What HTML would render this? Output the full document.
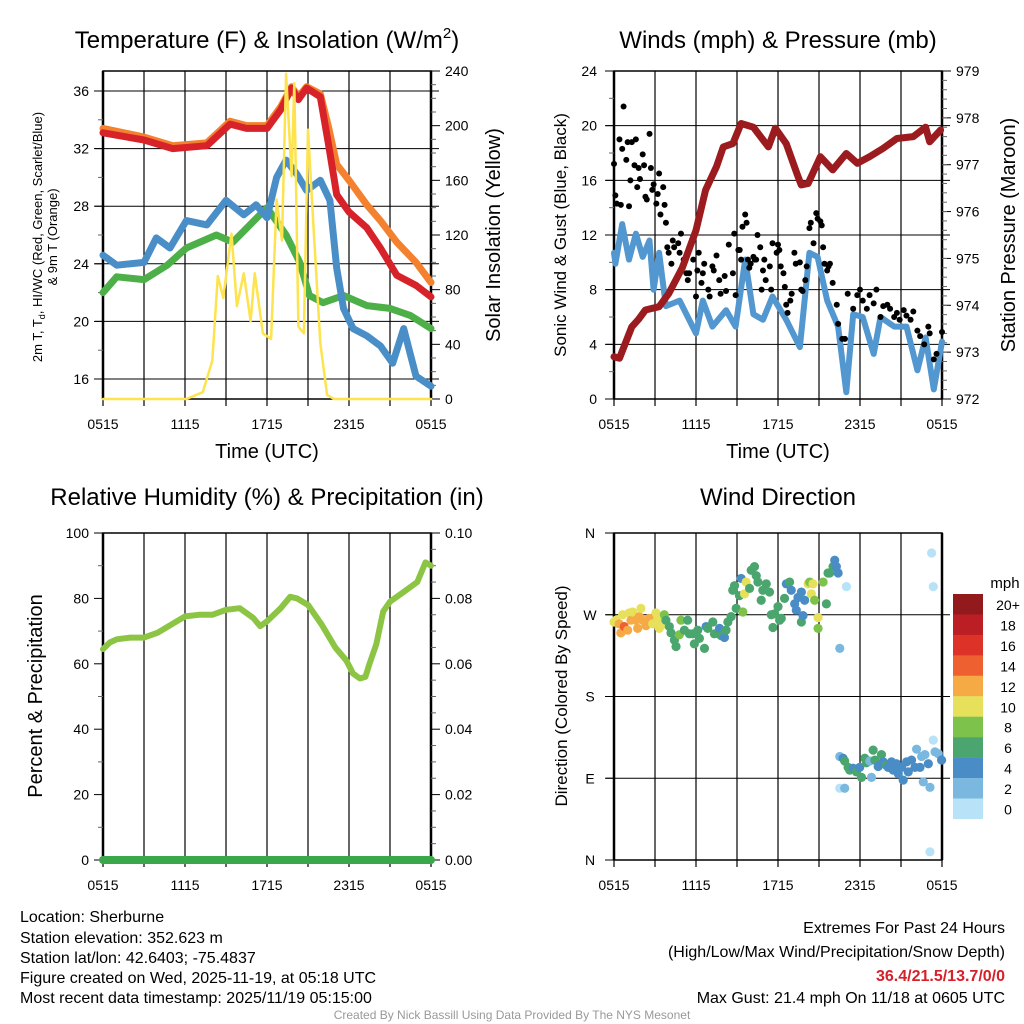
<!DOCTYPE html>
<html><head><meta charset="utf-8">
<style>
html,body{margin:0;padding:0;background:#fff;}
svg{display:block;font-family:"Liberation Sans",sans-serif;}
</style></head>
<body>
<svg id="c" width="1024" height="1024" viewBox="0 0 1024 1024">
<rect width="1024" height="1024" fill="#fff"/>
<g id="g"></g>
<!-- titles -->
<text x="267" y="48" font-size="24" text-anchor="middle">Temperature (F) &amp; Insolation (W/m<tspan font-size="15" dy="-10">2</tspan><tspan dy="10">)</tspan></text>
<text x="778" y="48" font-size="24" text-anchor="middle">Winds (mph) &amp; Pressure (mb)</text>
<text x="267" y="505" font-size="24" text-anchor="middle">Relative Humidity (%) &amp; Precipitation (in)</text>
<text x="778" y="505" font-size="24" text-anchor="middle">Wind Direction</text>
<!-- axis titles -->
<text x="267" y="458" font-size="20" text-anchor="middle">Time (UTC)</text>
<text x="778" y="458" font-size="20" text-anchor="middle">Time (UTC)</text>
<text transform="translate(42,237) rotate(-90)" font-size="13" text-anchor="middle">2m T, T<tspan font-size="9" dy="3">d</tspan><tspan dy="-3">, HI/WC (Red, Green, Scarlet/Blue)</tspan></text>
<text transform="translate(57,237) rotate(-90)" font-size="13" text-anchor="middle">&amp; 9m T (Orange)</text>
<text transform="translate(500,235) rotate(-90)" font-size="20" text-anchor="middle">Solar Insolation (Yellow)</text>
<text transform="translate(566,235) rotate(-90)" font-size="17" text-anchor="middle">Sonic Wind &amp; Gust (Blue, Black)</text>
<text transform="translate(1015,235) rotate(-90)" font-size="20" text-anchor="middle">Station Pressure (Maroon)</text>
<text transform="translate(42,696) rotate(-90)" font-size="20" text-anchor="middle">Percent &amp; Precipitation</text>
<text transform="translate(567,696) rotate(-90)" font-size="17" text-anchor="middle">Direction (Colored By Speed)</text>
<text x="1005" y="588" font-size="15" text-anchor="middle">mph</text>
<!-- footer info -->
<g font-size="16">
<text x="20" y="922">Location: Sherburne</text>
<text x="20" y="943">Station elevation: 352.623 m</text>
<text x="20" y="963">Station lat/lon: 42.6403; -75.4837</text>
<text x="20" y="983">Figure created on Wed, 2025-11-19, at 05:18 UTC</text>
<text x="20" y="1003">Most recent data timestamp: 2025/11/19 05:15:00</text>
</g>
<g font-size="16" text-anchor="end">
<text x="1005" y="933">Extremes For Past 24 Hours</text>
<text x="1005" y="957">(High/Low/Max Wind/Precipitation/Snow Depth)</text>
<text x="1005" y="981" fill="#d6202a" font-weight="bold">36.4/21.5/13.7/0/0</text>
<text x="1005" y="1003">Max Gust: 21.4 mph On 11/18 at 0605 UTC</text>
</g>
<text x="512" y="1019" font-size="12" fill="#999" text-anchor="middle">Created By Nick Bassill Using Data Provided By The NYS Mesonet</text>
</svg>
<script>
// ---- data (hours since 0515 UTC) ----
const xTickLabels = ["0515","1115","1715","2315","0515"];
const redH = [0,3,5.1,7.6,9.3,10.5,12,13,13.8,14.3,14.9,15.9,16.5,17.1,18,19.3,20.3,21.5,22.9,24];
const redT = [33.1,32.6,32.0,32.2,33.7,33.4,33.4,34.7,36.2,35.4,36.2,35.6,32.3,28.8,27.6,26.5,25.1,23.2,22.5,21.7];
const orangeH = [0,3,5.1,7.6,9.3,10.5,12,13,13.8,14.3,14.9,15.9,16.5,17.1,18,19.3,20.3,21.5,22.9,24];
const orangeT = [33.4,32.8,32.2,32.4,33.9,33.6,33.6,34.9,36.3,35.6,36.3,35.8,33.5,30.9,29.8,28.1,27.0,25.5,24.1,22.7];
const blueH = [0,1,3,3.9,4.9,6.1,7.6,9,10.3,11.2,12,12.7,13.4,14.2,14.9,15.9,16.6,17.1,17.6,18.3,19.3,20.3,21.2,22,22.9,24];
const blueT = [24.6,23.9,24.1,25.8,25.1,27,26.7,28.4,27.4,28.1,27.2,30,31.2,30.2,29.1,29.8,28.4,23.7,20.9,19.5,19,18.3,17.1,19.5,16.2,15.5];
const greenH = [0,1,3,4.7,6.1,8.3,9.5,12,13.4,14.4,15.1,16.1,17.6,19.3,21,22.5,24];
const greenT = [22,23.1,22.9,23.9,25.1,26,25.5,27.9,26,24.1,21.8,21.3,21.8,21.1,20.9,20.4,19.5];
const solH = [0,6.1,7.3,8.0,8.4,8.8,9.4,9.8,10.3,10.8,11.1,11.7,12.3,12.7,13.1,13.4,13.8,14.0,14.3,14.7,15.0,15.4,15.9,16.4,16.9,24];
const solW = [0,0,5,28,90,74,121,68,92,57,92,48,44,146,116,238,163,231,53,48,197,126,41,3,0,0];
const tempTicks = [16,20,24,28,32,36];
const solTicks = [0,40,80,120,160,200,240];

const presH = [0,0.4,1.3,1.8,2.3,3.3,4.0,5.0,6.0,6.7,7.5,8.0,8.7,9.3,10.2,11.3,11.8,12.6,13.4,13.7,14.2,15.1,16.0,17.0,17.8,18.7,19.7,20.7,21.9,22.8,23.1,23.9];
const presMb = [972.9,972.87,973.54,973.7,973.9,973.97,974.25,974.8,975.6,976.46,976.96,977.38,977.45,977.88,977.8,977.38,977.78,977.45,976.8,976.57,976.6,977.17,976.89,977.24,977.03,977.17,977.35,977.56,977.6,977.8,977.49,977.74];
const windH = [0,0.1,0.6,1.1,1.6,2.1,2.6,2.9,3.3,3.8,4.8,6,6.5,7.2,8.2,8.9,9.6,10.2,10.9,11.6,12.6,13.6,14.3,14.9,15.6,16.4,17.0,17.5,18.2,19.0,19.5,20.5,21.4,22.2,22.8,23.4,24];
const windMph = [10.7,9.9,12.8,10.2,12.1,10.4,11.6,8,10.7,6.8,7.2,4.8,7.2,5.3,6.5,5.3,10.2,6.2,5.8,7.5,5.8,3.8,10.7,10.4,7.2,5.3,0.5,6.2,6,3.3,6,5.3,5.3,2.1,4.5,0.7,4.2];
const gustH = [0,0.1,0.2,0.4,0.5,0.6,0.7,0.9,1,1.1,1.2,1.3,1.5,1.6,1.7,1.8,1.9,2.1,2.2,2.3,2.4,2.6,2.7,2.8,2.9,3.1,3.2,3.3,3.4,3.6,3.7,3.8,3.9,4,4.2,4.3,4.4,4.7,4.8,4.9,5,5.1,5.3,5.4,5.5,5.8,6,6.1,6.2,6.4,6.5,6.6,6.9,7,7.2,7.3,7.5,7.7,7.8,8.1,8.2,8.4,8.7,8.8,8.9,9.1,9.2,9.3,9.4,9.6,9.7,9.8,9.9,10,10.2,10.3,10.4,10.5,10.7,10.8,10.9,11,11.1,11.4,11.5,11.6,11.9,12,12.1,12.2,12.4,12.5,12.6,12.7,12.9,13,13.2,13.3,13.6,13.7,13.8,14,14.1,14.3,14.4,14.6,14.8,14.9,15.1,15.2,15.3,15.4,15.6,15.7,15.8,16,16.3,16.4,16.7,16.9,17.1,17.5,17.8,18,18.2,18.5,18.7,19,19.2,19.5,19.7,20,20.2,20.5,20.7,20.9,21.2,21.4,21.7,21.9,22.2,22.4,22.7,23,23.1,23.4,23.6,24];
const gustMph = [17.2,14.9,14.3,19,14.2,18.3,21.4,17.5,18.8,14.1,16,18.8,17.1,19,15.5,16.9,16.1,17.9,17.1,14.8,14.6,19.4,16.9,15.3,15.7,14.3,15,16.5,13.5,15.5,14.2,12.9,11.1,10.7,9.9,11.6,11.1,11.4,10.7,12.1,9.7,10.2,9.2,8.7,9.2,10.2,7.5,9.4,10.7,8.5,9.2,9.9,8,7.5,9.7,9.4,10.5,8.7,7.7,9,7.9,11.3,9.2,12.1,7.6,10.9,10.9,10.2,12.6,13.5,12.9,10.2,9.6,9.9,10.4,10.2,10.2,12,11.1,8,9.4,10.2,8.7,9.7,8,11.4,10.7,11.3,10.9,9.7,9.2,8.2,6.9,6.3,7.2,7.7,10.7,9.9,10,8,7.9,8.7,9.7,12.5,12.9,11.4,13.6,13.2,13,12.7,11.1,9.9,9.4,9.7,9.9,8.5,6.9,5.5,4.4,4.4,7.7,6.6,7.6,8,7.2,6.6,7.6,7,8,6,6.8,6.9,6.6,6,6.3,5.8,6.5,6.1,5.8,6.4,5,4.6,4,5.3,4.8,2.9,3.3,4.9];
const windTicks = [0,4,8,12,16,20,24];
const presTicks = [972,973,974,975,976,977,978,979];

const rhH = [0,0.5,1,2,3,4,5,6,7,8,9,10,11,11.5,12,13,13.7,14.2,15,16,17,17.8,18.3,18.8,19.2,19.5,20,20.5,21,22,23,23.6,24];
const rhPct = [64.5,66.5,67.5,68,68,69.5,72,74.5,75,75,76.5,77,74,71.5,73,77,80.5,80,78,72,65,61,57,55.5,56,60,66,76,79,82,85,91,90];
const precipH = [0,24];
const precipIn = [0,0];
const rhTicks = [0,20,40,60,80,100];
const precipTicks = ["0.00","0.02","0.04","0.06","0.08","0.10"];

const dirH = [0,0.14,0.38,0.5,0.63,0.75,1,1.11,1.24,1.36,1.6,1.73,1.85,1.97,2.09,2.34,2.58,2.83,3.07,3.19,3.31,3.44,3.68,3.8,4.05,4.17,4.42,4.54,4.78,4.9,5.15,5.39,5.52,5.76,5.88,6.13,6.25,6.62,6.74,6.86,7.23,7.35,7.72,7.84,8.08,8.2,8.33,8.57,8.69,8.82,8.94,9.18,9.3,9.43,9.55,9.67,9.92,10.04,10.28,10.41,10.53,10.77,10.89,11.14,11.38,11.51,11.63,11.75,12,12.12,12.24,12.48,12.61,12.85,12.97,13.22,13.34,13.46,13.71,13.71,13.83,13.95,14.2,14.32,14.44,14.56,14.68,14.93,14.93,15.3,15.54,15.66,15.78,16.03,16.15,16.27,16.4,16.52,17.01,23.24,23.36,
16.52,16.76,16.88,17.13,17.25,17.5,17.74,17.98,18.11,18.35,18.47,18.72,18.96,19.09,19.33,19.57,19.7,19.94,20.06,20.31,20.43,20.67,20.8,21.04,21.16,21.41,21.53,21.77,22.02,22.14,22.39,22.51,22.63,22.75,23.0,23.12,23.36,23.49,23.73,23.97,16.52,16.88,18.84,23.12];
const dirDeg = [262,264,260,250,270,257,253,272,264,273,264,255,268,277,264,258,266,260,272,264,255,258,270,264,257,250,242,235,248,264,253,264,249,249,238,253,244,233,257,255,262,249,255,247,245,253,262,268,297,302,277,291,310,273,293,306,299,319,323,313,306,286,297,304,295,270,256,271,279,264,266,288,304,306,297,282,275,289,295,262,269,286,304,306,293,304,286,267,255,306,282,316,316,323,330,323,316,233,301,338,301,
114,112,109,102,99,101,97,102,91,112,107,109,121,110,103,116,108,104,102,108,99,106,95,102,88,108,97,110,102,122,102,114,86,116,106,80,132,119,117,110,79,79,91,9];
const dirSpd = [10,10,12,12,11,14,12,10,12,10,12,12,12,10,12,12,12,10,10,10,10,10,8,6,6,6,6,6,8,8,6,6,6,6,6,6,6,6,4,6,6,6,4,6,4,6,6,6,6,6,6,6,4,8,10,10,6,6,6,6,6,6,6,6,6,6,6,6,6,6,6,6,4,6,4,4,4,4,4,6,4,4,10,8,10,10,8,10,8,8,6,6,6,6,4,4,4,2,0,0,0,
2,4,6,6,6,4,6,4,6,6,6,2,6,6,4,6,4,6,4,4,4,4,4,4,4,4,4,4,4,2,4,2,2,2,4,2,0,2,2,4,0,2,2,0];
const dirTicks = ["N","W","S","E","N"];
const cbLabels = ["20+","18","16","14","12","10","8","6","4","2","0"];
const cbColors = ["#921a1c","#bb1e24","#dc3228","#ee6030","#f5aa45","#e6e05a","#7dc24a","#4aa56e","#4a8cc5","#7ab8e0","#b8e2f7"];

// ---- drawing ----
const NS = "http://www.w3.org/2000/svg";
const G = document.getElementById("g");
function mk(tag, attrs, parent) {
  const e = document.createElementNS(NS, tag);
  for (const k in attrs) e.setAttribute(k, attrs[k]);
  (parent || G).appendChild(e);
  return e;
}
function panel(x0, x1, y0, y1) {
  return {x0, x1, y0, y1, sx: h => x0 + (x1 - x0) * h / 24};
}
function lin(v0, v1, p0, p1) { return v => p0 + (v - v0) * (p1 - p0) / (v1 - v0); }

function frame(p, name, hLines) {
  const gr = mk("g", {});
  
  
  for (let i = 0; i <= 8; i++) {
    const x = p.x0 + (p.x1 - p.x0) * i / 8;
    const l = mk("line", {x1: x, x2: x, y1: p.y0, y2: p.y1 + 7, stroke: "#000", "stroke-width": 1.2}, gr);
    
    
  }
  hLines.forEach(y => {
    const l = mk("line", {x1: p.x0 - 8, x2: p.x1 + 8, y1: y, y2: y, stroke: "#000", "stroke-width": 1}, gr);
    
    
  });
  const b = mk("rect", {x: p.x0, y: p.y0, width: p.x1 - p.x0, height: p.y1 - p.y0, fill: "none", stroke: "#000", "stroke-width": 1.5}, gr);
  
  
  mk("line", {x1: p.x0, x2: p.x0, y1: p.y0, y2: p.y1, stroke: "#000", "stroke-width": 2.5}, gr);
  mk("line", {x1: p.x1, x2: p.x1, y1: p.y0, y2: p.y1, stroke: "#000", "stroke-width": 2.5}, gr);
  xTickLabels.forEach((t, i) => {
    const e = mk("text", {x: p.x0 + (p.x1 - p.x0) * i / 4, y: p.y1 + 30, "font-size": 14, "text-anchor": "middle"});
    e.textContent = t;
    
    
  });
}
function yLabels(vals, sy, x, anchor, fmt, name) {
  vals.forEach(v => {
    const e = mk("text", {x: x, y: sy(v) + 5, "font-size": 14, "text-anchor": anchor});
    e.textContent = fmt ? fmt(v) : v;
    
    
  });
}
function minorTicks(vals, sy, x, dir) {
  vals.forEach(v => mk("line", {x1: x, x2: x + dir * 5, y1: sy(v), y2: sy(v), stroke: "#666", "stroke-width": 1}));
}
function pathD(xs, ys, sx, sy) {
  return xs.map((h, i) => (i ? "L" : "M") + sx(h).toFixed(1) + "," + sy(ys[i]).toFixed(1)).join("");
}
function line(xs, ys, sx, sy, color, w, name) {
  const e = mk("path", {d: pathD(xs, ys, sx, sy), fill: "none", stroke: color, "stroke-width": w, "stroke-linejoin": "round", "stroke-linecap": "round"});
  
  
}

// Panel 1: temperature
const p1 = panel(103, 431, 71, 399);
const t1 = lin(16, 36, 379, 91);
const s1 = lin(0, 240, 399, 71);
frame(p1, "temp-panel", tempTicks.map(t1));
minorTicks([18,22,26,30,34], t1, 103, -1);
minorTicks([10,20,30,50,60,70,90,100,110,130,140,150,170,180,190,210,220,230], s1, 431, 1);
tempTicks.forEach(v => mk("line", {x1: 94, x2: 103, y1: t1(v), y2: t1(v), stroke: "#000"}));
solTicks.forEach(v => mk("line", {x1: 431, x2: 440, y1: s1(v), y2: s1(v), stroke: "#000"}));
yLabels(tempTicks, t1, 89, "end", null, "temp-y-tick-label");
yLabels(solTicks, s1, 445, "start", null, "insolation-y-tick-label");
line(orangeH, orangeT, p1.sx, t1, "#f4812f", 7, "9m-temp-line");
line(redH, redT, p1.sx, t1, "#d7222a", 7, "2m-temp-line");
line(greenH, greenT, p1.sx, t1, "#4daf47", 7, "dewpoint-line");
line(blueH, blueT, p1.sx, t1, "#4a8ec8", 7, "windchill-line");
line(solH, solW, p1.sx, s1, "#fde34d", 2.5, "insolation-line");

// Panel 2: wind
const p2 = panel(614, 942, 71, 399);
const w2 = lin(0, 24, 399, 71);
const pr2 = lin(972, 979, 399, 71);
frame(p2, "wind-panel", [4,8,12,16,20].map(w2));
minorTicks([2,6,10,14,18,22], w2, 614, -1);
windTicks.forEach(v => mk("line", {x1: 605, x2: 614, y1: w2(v), y2: w2(v), stroke: "#000"}));
presTicks.forEach(v => mk("line", {x1: 942, x2: 951, y1: pr2(v), y2: pr2(v), stroke: "#000"}));
const pm = []; for (let v = 972.2; v < 979; v += 0.2) pm.push(v);
minorTicks(pm, pr2, 942, 1);
yLabels(windTicks, w2, 597, "end", null, "wind-y-tick-label");
yLabels(presTicks, pr2, 956, "start", null, "pressure-y-tick-label");
line(windH, windMph, p2.sx, w2, "#5297d0", 6, "sonic-wind-line");
gustH.forEach((h, i) => {
  const c = mk("circle", {cx: p2.sx(h), cy: w2(gustMph[i]), r: 3, fill: "#000"});
  
  
});
line(presH, presMb, p2.sx, pr2, "#9b1b1e", 7, "pressure-line");

// Panel 3: RH
const p3 = panel(103, 431, 533, 860);
const r3 = lin(0, 100, 860, 533);
const pc3 = lin(0, 0.10, 860, 533);
frame(p3, "rh-panel", []);
rhTicks.forEach(v => mk("line", {x1: 94, x2: 103, y1: r3(v), y2: r3(v), stroke: "#000"}));
rhTicks.forEach(v => mk("line", {x1: 431, x2: 440, y1: r3(v), y2: r3(v), stroke: "#000"}));
minorTicks([10,30,50,70,90], r3, 103, -1);
minorTicks([5,10,15,25,30,35,45,50,55,65,70,75,85,90,95], r3, 431, 1);
yLabels(rhTicks, r3, 89, "end", null, "rh-y-tick-label");
yLabels(precipTicks.map(Number), pc3, 445, "start", v => v.toFixed(2), "precip-y-tick-label");
line(rhH, rhPct, p3.sx, r3, "#8cc543", 6, "rh-line");
line(precipH, precipIn, p3.sx, pc3, "#3aa84a", 8, "precip-line");

// Panel 4: direction
const p4 = panel(614, 942, 533, 860);
const d4 = lin(0, 360, 860, 533);
frame(p4, "direction-panel", [90,180,270].map(d4));
[0,90,180,270,360].forEach(v => mk("line", {x1: 605, x2: 614, y1: d4(v), y2: d4(v), stroke: "#000"}));
dirTicks.forEach((t, i) => {
  const e = mk("text", {x: 590, y: d4(360 - i * 90) + 5, "font-size": 14, "text-anchor": "middle"});
  e.textContent = t;
  
  
});
function spdColor(s) { let i = Math.min(10, Math.floor(s / 2)); return cbColors[10 - i]; }
dirH.forEach((h, i) => {
  const c = mk("circle", {cx: p4.sx(h), cy: d4(dirDeg[i]), r: 4.6, fill: spdColor(dirSpd[i])});
  
  
});
// colorbar
cbColors.forEach((col, i) => {
  const r = mk("rect", {x: 953, y: 594 + i * 20.45, width: 30, height: 20.6, fill: col});
  
  
  const t = mk("text", {x: 1008, y: 594 + i * 20.45 + 16, "font-size": 14, "text-anchor": "middle"});
  t.textContent = cbLabels[i];
  
  
});
</script>
</body></html>
